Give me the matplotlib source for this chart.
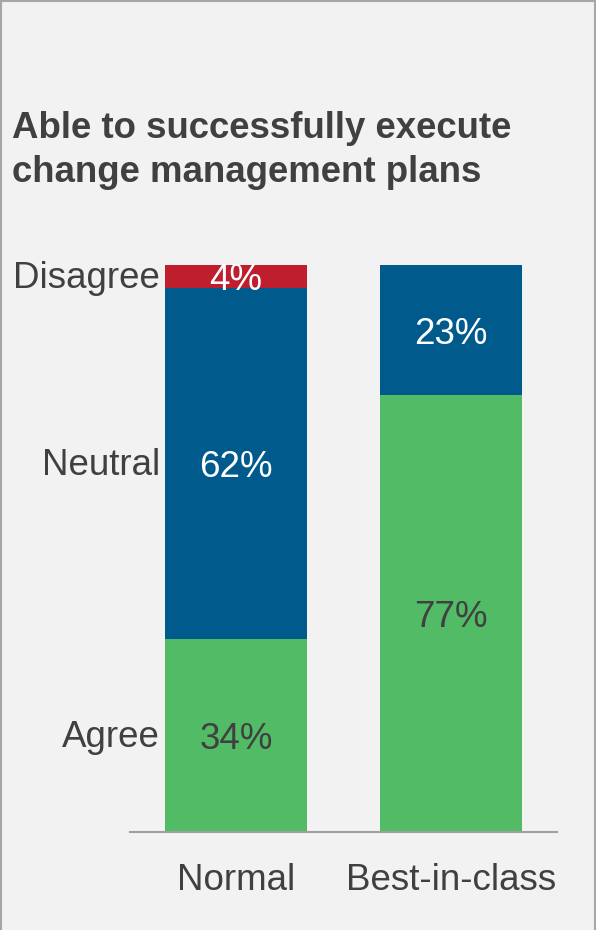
import matplotlib
matplotlib.use("Agg")
import matplotlib.pyplot as plt
from matplotlib.lines import Line2D

# Survey responses (share of respondents)
groups = ["Normal", "Best-in-class"]
responses = ["Agree", "Neutral", "Disagree"]
agree = [0.34, 0.77]
neutral = [0.62, 0.23]
disagree = [0.04, 0.00]
value_labels = {
    "Agree": ["34%", "77%"],
    "Neutral": ["62%", "23%"],
    "Disagree": ["4%", ""],
}
title_lines = ["Able to successfully execute", "change management plans"]

colors = {"Agree": "#52bb66", "Neutral": "#005a8c", "Disagree": "#be1e2d"}
label_colors = {"Agree": "#404040", "Neutral": "white", "Disagree": "white"}
text_color = "#404040"
bg = "#f2f2f2"

plt.rcParams["font.family"] = ["Liberation Sans", "DejaVu Sans"]

W, H = 596, 930
fig = plt.figure(figsize=(W / 100, H / 100), dpi=100, facecolor=bg)

ax_left, ax_right, ax_top, ax_bottom = 130, 557, 265, 832
ax = fig.add_axes([ax_left / W, (H - ax_bottom) / H,
                   (ax_right - ax_left) / W, (ax_bottom - ax_top) / H])
ax.set_facecolor(bg)

x = list(range(len(groups)))
width = 0.66
series = {"Agree": agree, "Neutral": neutral, "Disagree": disagree}
bottoms = [0.0] * len(groups)
for name in responses:
    vals = series[name]
    ax.bar(x, vals, width=width, bottom=bottoms, color=colors[name],
           edgecolor="none", zorder=2)
    for i, v in enumerate(vals):
        lab = value_labels[name][i]
        if lab:
            ax.annotate(lab, (x[i], bottoms[i] + v / 2), xytext=(0, -13.5 * 0.72),
                        textcoords="offset points", ha="center", va="baseline",
                        fontsize=26.5, color=label_colors[name], zorder=3)
    # response labels to the left of the first bar
    ax.annotate(name, (x[0] - width / 2, bottoms[0] + vals[0] / 2),
                xytext=(-5 * 0.72, -11.5 * 0.72), textcoords="offset points",
                ha="right", va="baseline", fontsize=26.5, color=text_color,
                annotation_clip=False)
    bottoms = [b + v for b, v in zip(bottoms, vals)]

ax.set_xlim(-0.493, 1.493)
ax.set_ylim(0, 1)
for s in ["top", "right", "left"]:
    ax.spines[s].set_visible(False)
ax.spines["bottom"].set_color("#a0a0a0")
ax.spines["bottom"].set_linewidth(1.5)
ax.spines["bottom"].set_zorder(4)
ax.set_yticks([])
ax.set_xticks([])

for i, g in enumerate(groups):
    ax.annotate(g, (x[i], 0), xycoords=("data", "axes fraction"),
                xytext=(0, -58 * 0.72), textcoords="offset points",
                ha="center", va="baseline", fontsize=26.5, color=text_color,
                annotation_clip=False)

# Title
fig.text(12 / W, 1 - 138 / H, title_lines[0], ha="left", va="baseline",
         fontsize=26.4, fontweight="bold", color=text_color)
fig.text(12 / W, 1 - 182 / H, title_lines[1], ha="left", va="baseline",
         fontsize=26.4, fontweight="bold", color=text_color)

# Frame on top, left and right
border = "#a6a6a6"
fig.add_artist(Line2D([1 / W, 1 / W], [0, 1 - 1.5 / H], transform=fig.transFigure,
                      color=border, linewidth=1.5))
fig.add_artist(Line2D([594.5 / W, 594.5 / W], [0, 1 - 1.5 / H], transform=fig.transFigure,
                      color=border, linewidth=1.5))
fig.add_artist(Line2D([1 / W, 594.5 / W], [1 - 1.5 / H, 1 - 1.5 / H], transform=fig.transFigure,
                      color=border, linewidth=1.5))

fig.savefig("out.png", dpi=100, facecolor=bg)
